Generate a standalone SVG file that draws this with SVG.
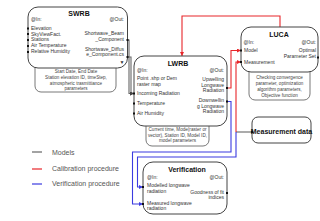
<svg xmlns="http://www.w3.org/2000/svg" width="320" height="221" viewBox="0 0 320 221">
<defs>
<style>
.box{fill:#fff;stroke:#444;stroke-width:1}
.pbox{fill:#fff;stroke:#555;stroke-width:0.8}
.t{font-family:"Liberation Sans",Arial,sans-serif;font-size:5px;fill:#333}
.p{font-family:"Liberation Sans",Arial,sans-serif;font-size:4.6px;fill:#444;text-anchor:middle}
.h{font-family:"Liberation Sans",Arial,sans-serif;font-size:7px;font-weight:bold;fill:#111;text-anchor:middle}
.r{text-anchor:end}
.lg{font-family:"Liberation Sans",Arial,sans-serif;font-size:7px;fill:#555}
.cg{fill:none;stroke:#666;stroke-width:1.1}
.cr{fill:none;stroke:#e8262a;stroke-width:1.1}
.cb{fill:none;stroke:#3b3be0;stroke-width:1.1}
.port{fill:#111}
</style>
<marker id="ag" viewBox="0 0 6 6" refX="6" refY="3" markerWidth="4" markerHeight="4" orient="auto" markerUnits="userSpaceOnUse"><path d="M0,0 L6,3 L0,6 z" fill="#444"/></marker>
<marker id="ar" viewBox="0 0 6 6" refX="6" refY="3" markerWidth="4" markerHeight="4" orient="auto" markerUnits="userSpaceOnUse"><path d="M0,0 L6,3 L0,6 z" fill="#e8262a"/></marker>
<marker id="ab" viewBox="0 0 6 6" refX="6" refY="3" markerWidth="4" markerHeight="4" orient="auto" markerUnits="userSpaceOnUse"><path d="M0,0 L6,3 L0,6 z" fill="#3b3be0"/></marker>
</defs>
<rect width="320" height="221" fill="#fff"/>

<g id="connectors">
<path class="cg" d="M127,40 H129 V93.5 H134" marker-end="url(#ag)"/>
<path class="cg" d="M127,57 H131 V93.5 H134" marker-end="url(#ag)"/>
<path class="cr" d="M280,27 V16 H182 V56" marker-end="url(#ar)"/>
<path class="cr" d="M227,88 H231 V50.5 H241" marker-end="url(#ar)"/>
<path class="cg" d="M252,132 H236"/>
<path class="cr" d="M236,132 V62 H241" marker-end="url(#ar)"/>
<path class="cb" d="M227,101.5 H231 V152 H132.5 V204 H143" marker-end="url(#ab)"/>
<path class="cb" d="M236,132 V157 H137.5 V187 H143" marker-end="url(#ab)"/>
</g>

<g id="swrb">
<rect class="pbox" x="35" y="58" width="81" height="34" rx="6"/>
<rect class="box" x="28" y="7" width="99.5" height="61" rx="10"/>
<text class="h" x="79" y="16">SWRB</text>
<text class="t" x="31" y="21">@In:</text>
<text class="t r" x="124" y="21">@Out:</text>
<text class="t" x="31" y="30">Elevation</text>
<text class="t" x="31" y="35.5">SkyViewFact.</text>
<text class="t" x="31" y="41">Stations</text>
<text class="t" x="31" y="47">Air Temperature</text>
<text class="t" x="31" y="53">Relative Humidity</text>
<text class="t r" x="124" y="35">Shortwave_Beam</text>
<text class="t r" x="124" y="40.5">_Component</text>
<text class="t r" x="124" y="50.5">Shortwave_Diffus</text>
<text class="t r" x="124" y="56">e_Component.cs</text>
<text class="t" x="119.5" y="63.5" font-size="4">▼</text>
<rect class="port" x="27" y="27.5" width="2" height="2"/>
<rect class="port" x="27" y="33" width="2" height="2"/>
<rect class="port" x="27" y="39" width="2" height="2"/>
<rect class="port" x="27" y="45" width="2" height="2"/>
<rect class="port" x="27" y="51" width="2" height="2"/>
<rect class="port" x="126.5" y="39" width="2" height="2"/>
<rect class="port" x="126.5" y="56" width="2" height="2"/>
<text class="p" x="76" y="73">Start Date, End Date</text>
<text class="p" x="76" y="78.5">Station elevation ID, timeStep,</text>
<text class="p" x="76" y="84.5">atmospheric trasmittiance</text>
<text class="p" x="76" y="90">parameters</text>
</g>

<g id="lwrb">
<rect class="pbox" x="146" y="118" width="63" height="28" rx="6"/>
<rect class="box" x="134" y="56" width="93" height="70" rx="10"/>
<text class="h" x="178" y="66">LWRB</text>
<text class="t" x="137" y="72">@In:</text>
<text class="t r" x="224" y="72">@Out:</text>
<text class="t" x="137" y="80">Point .shp or Dem</text>
<text class="t" x="137" y="85.5">raster map</text>
<text class="t" x="137" y="95">Incoming Radiation</text>
<text class="t" x="137" y="105">Temperature</text>
<text class="t" x="137" y="115">Air Humidity</text>
<text class="t r" x="224" y="81">Upwelling</text>
<text class="t r" x="224" y="86.5">Longwave</text>
<text class="t r" x="224" y="92">Radiation</text>
<text class="t r" x="224" y="102">Downwellin</text>
<text class="t r" x="224" y="107.5">g Longwave</text>
<text class="t r" x="224" y="113">Radiation</text>
<rect class="port" x="133" y="92.5" width="2" height="2"/>
<rect class="port" x="133" y="102.5" width="2" height="2"/>
<rect class="port" x="133" y="112.5" width="2" height="2"/>
<rect class="port" x="226" y="87" width="2" height="2"/>
<rect class="port" x="226" y="100.5" width="2" height="2"/>
<text class="p" x="177.5" y="131">Current time, Mode(raster or</text>
<text class="p" x="177.5" y="136.5">vector), Station ID, Model ID,</text>
<text class="p" x="177.5" y="142">model parameters</text>
</g>

<g id="luca">
<rect class="pbox" x="249" y="64" width="61" height="36" rx="6"/>
<rect class="box" x="241" y="27" width="77" height="45" rx="10"/>
<text class="h" x="279" y="37">LUCA</text>
<text class="t" x="243.5" y="44">@In:</text>
<text class="t r" x="316" y="44">@Out:</text>
<text class="t" x="244" y="52">Model</text>
<text class="t" x="244" y="63.5">Measurement</text>
<text class="t r" x="316" y="52">Optimal</text>
<text class="t r" x="316" y="57.5">Parameter Set</text>
<rect class="port" x="240" y="49.5" width="2" height="2"/>
<rect class="port" x="240" y="61" width="2" height="2"/>
<rect class="port" x="317" y="56.5" width="2" height="2"/>
<text class="p" x="279.5" y="78.5">Checking convergence</text>
<text class="p" x="279.5" y="84.5">parameter, optimization</text>
<text class="p" x="279.5" y="90.5">algorithm parameters,</text>
<text class="p" x="279.5" y="96.5">Objective function</text>
</g>

<g id="measurement">
<rect class="box" x="252" y="117" width="59" height="26" rx="6"/>
<text class="h" x="281.5" y="134" font-size="6.4">Measurement data</text>
<rect class="port" x="251" y="131" width="2" height="2"/>
</g>

<g id="verification">
<rect class="box" x="143" y="162" width="84" height="52" rx="10"/>
<text class="h" x="187" y="172" font-size="6.6">Verification</text>
<text class="t" x="147" y="179">@In:</text>
<text class="t r" x="224" y="179">@Out:</text>
<text class="t" x="147" y="187">Modelled longwave</text>
<text class="t" x="147" y="192.5">radiation</text>
<text class="t" x="147" y="204.5">Measured longwave</text>
<text class="t" x="147" y="210">radiation</text>
<text class="t r" x="224" y="193.5">Goodness of fit</text>
<text class="t r" x="224" y="199">indices</text>
<rect class="port" x="142" y="186" width="2" height="2"/>
<rect class="port" x="142" y="203" width="2" height="2"/>
<rect class="port" x="226" y="192" width="2" height="2"/>
</g>

<g id="legend">
<line x1="32" y1="152" x2="42" y2="152" stroke="#666" stroke-width="1.2"/>
<text class="lg" x="52" y="154.5">Models</text>
<line x1="32" y1="169" x2="42" y2="169" stroke="#e8262a" stroke-width="1.2"/>
<text class="lg" x="52" y="171">Calibration procedure</text>
<line x1="32" y1="184" x2="42" y2="184" stroke="#3b3be0" stroke-width="1.2"/>
<text class="lg" x="52" y="186">Verification procedure</text>
</g>
</svg>
